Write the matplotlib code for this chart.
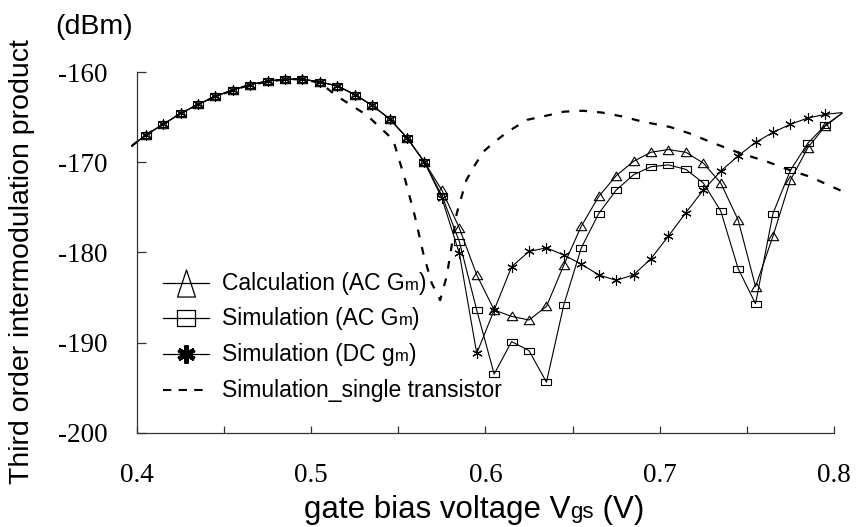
import matplotlib
matplotlib.use('Agg')
import matplotlib.pyplot as plt
from matplotlib.lines import Line2D
from matplotlib.path import Path
import numpy as np

# gate bias points (V); first/last entries are where the lines leave the frame
vgs = [0.397] + list(np.round(np.arange(0.405, 0.8, 0.01), 3)) + [0.8045]

calc_ac = [-168.2, -167.0, -165.8, -164.6, -163.6, -162.7, -162.0, -161.4, -161.0,
           -160.8, -160.8, -161.1, -161.55, -162.5, -163.7, -165.2, -167.3, -170.0,
           -173.1, -177.3, -182.5, -186.4, -187.1, -187.5, -186.0, -181.4, -177.1,
           -173.8, -171.5, -169.9, -168.9, -168.6, -168.9, -170.1, -172.3, -176.4,
           -183.8, -178.2, -172.0, -168.4, -166.0, -164.6]
sim_ac = [-168.2, -167.0, -165.8, -164.6, -163.6, -162.7, -162.0, -161.4, -161.0,
          -160.8, -160.8, -161.1, -161.55, -162.5, -163.7, -165.2, -167.3, -170.0,
          -173.7, -178.8, -186.4, -193.5, -189.9, -190.9, -194.4, -185.8, -179.5,
          -175.7, -173.1, -171.4, -170.5, -170.3, -170.8, -172.3, -175.4, -181.8,
          -185.7, -175.7, -170.9, -167.9, -165.9, -164.6]
sim_dc = [-168.2, -167.0, -165.8, -164.6, -163.6, -162.7, -162.0, -161.4, -161.0,
          -160.8, -160.8, -161.1, -161.55, -162.5, -163.7, -165.2, -167.3, -170.0,
          -174.0, -180.1, -191.2, -186.4, -181.6, -179.9, -179.5, -180.3, -181.3,
          -182.5, -183.1, -182.5, -180.7, -178.2, -175.6, -173.1, -171.0, -169.3,
          -167.8, -166.7, -165.8, -165.1, -164.7, -164.5]

# single transistor simulation (no markers)
single_x = [0.397, 0.405, 0.425, 0.445, 0.465, 0.485, 0.495, 0.505, 0.515, 0.532,
            0.547, 0.554, 0.5595, 0.5643, 0.5691, 0.572, 0.574, 0.5777, 0.5796,
            0.5835, 0.589, 0.594, 0.599, 0.6055, 0.613, 0.624, 0.636, 0.645, 0.656,
            0.667, 0.679, 0.690, 0.706, 0.717, 0.731, 0.746, 0.761, 0.775, 0.786, 0.8045]
single_y = [-168.2, -167.0, -164.6, -162.7, -161.4, -160.8, -160.8, -161.2, -162.7, -164.8,
            -167.5, -172.0, -176.0, -180.1, -183.4, -184.5, -185.3, -182.7, -180.5,
            -175.7, -172.0, -170.3, -168.8, -167.7, -166.6, -165.3, -164.8, -164.4, -164.3,
            -164.5, -164.95, -165.5, -166.1, -166.8, -167.9, -169.0, -169.9, -170.9, -171.6, -173.2]

x_ticks = [0.4, 0.5, 0.6, 0.7, 0.8]
x_ticklabels = ['0.4', '0.5', '0.6', '0.7', '0.8']
x_minor = [0.45, 0.55, 0.65, 0.75]
y_ticks = [-200, -190, -180, -170, -160]
y_ticklabels = ['-200', '-190', '-180', '-170', '-160']

plt.rcParams['font.family'] = 'Liberation Sans'

W, H = 857, 527
fig = plt.figure(figsize=(W / 100, H / 100), dpi=100)


def fx(x):
    return x / W


def fy(y):
    return 1 - y / H


ax = fig.add_axes([fx(126.5), fy(432.7), 721.4 / W, 360.7 / H])

tri = Path([(-0.5, -0.4), (0.5, -0.4), (0, 0.42), (-0.5, -0.4)], closed=True)
rect = Path([(-0.5, -0.32), (0.5, -0.32), (0.5, 0.32), (-0.5, 0.32), (-0.5, -0.32)], closed=True)
star = (6, 2, 0)

every = slice(1, -1)
ax.plot(single_x, single_y, color='black', lw=1.6, linestyle=(0, (3.5, 4.5)))
ax.plot(vgs, calc_ac, color='black', lw=0.8, marker=tri, ms=7.5, mfc='none',
        mec='black', mew=0.8, markevery=every)
ax.plot(vgs, sim_ac, color='black', lw=0.8, marker=rect, ms=7.5, mfc='none',
        mec='black', mew=0.8, markevery=every)
ax.plot(vgs, sim_dc, color='black', lw=0.8, marker=star, ms=7.5,
        mec='black', mew=0.8, markevery=every)

ax.set_xlim(0.394, 0.808)
ax.set_ylim(-200, -160)
ax.spines['top'].set_visible(False)
ax.spines['right'].set_visible(False)
ax.spines['left'].set_position(('data', 0.4))
ax.spines['bottom'].set_bounds(0.4, 0.8)
for s in ['left', 'bottom']:
    ax.spines[s].set_color('#333333')
    ax.spines[s].set_linewidth(0.9)

ax.set_xticks(x_ticks, labels=x_ticklabels)
ax.set_xticks(x_minor, minor=True)
ax.set_yticks(y_ticks, labels=y_ticklabels)
ax.tick_params(axis='y', direction='in', length=6.5, width=0.9, pad=21,
               labelsize=19.5, labelfontfamily='Liberation Serif', color='#333333')
ax.tick_params(axis='x', which='both', direction='in', length=5, width=0.9, pad=22,
               labelsize=19.5, labelfontfamily='Liberation Serif', color='#333333')

fig.text(fx(22), fy(262), 'Third order intermodulation product', rotation=90,
         fontsize=20.5, ha='center', va='center')
fig.text(fx(94), fy(27), '(dBm)', fontsize=20.5, ha='center', va='center')

renderer = fig.canvas.get_renderer()


def put_parts(x, y, parts, center=False):
    # x, y in pixels from top-left; y is the baseline
    texts = [fig.text(0, fy(y), s, fontsize=size, ha='left', va='baseline')
             for s, size in parts]
    widths = [t.get_window_extent(renderer).width for t in texts]
    if center:
        x = x - sum(widths) / 2
    for t, w in zip(texts, widths):
        t.set_x(fx(x))
        x += w


put_parts(474, 518, [('gate bias voltage V', 22.5), ('gs', 16), (' (V)', 22.5)], center=True)

# hand-made legend
rows = [283, 318, 354, 390]
leg_tri = Path([(-0.33, -0.5), (0.33, -0.5), (0, 0.5), (-0.33, -0.5)], closed=True)
leg_rect = Path([(-0.5, -0.47), (0.5, -0.47), (0.5, 0.47), (-0.5, 0.47), (-0.5, -0.47)], closed=True)
handles = [dict(marker=leg_tri, ms=19.5, mfc='none', mew=0.9, lw=0.9),
           dict(marker=leg_rect, ms=13, mfc='none', mew=0.9, lw=0.9),
           dict(marker=star, ms=13, mew=3.2, lw=0.9),
           dict(marker=None, lw=1.5, linestyle=(0, (4, 3.5)))]
labels = [[('Calculation (AC G', 16.5), ('m', 12), (')', 16.5)],
          [('Simulation (AC G', 16.5), ('m', 12), (')', 16.5)],
          [('Simulation (DC g', 16.5), ('m', 12), (')', 16.5)],
          [('Simulation_single transistor', 16.5)]]
for row, hd, lab in zip(rows, handles, labels):
    ln = Line2D([fx(163), fx(186), fx(209)], [fy(row)] * 3, color='black', mec='black',
                markevery=[1], transform=fig.transFigure, **hd)
    fig.add_artist(ln)
    put_parts(222, row + 7, lab)

plt.savefig('out.png', dpi=100)
